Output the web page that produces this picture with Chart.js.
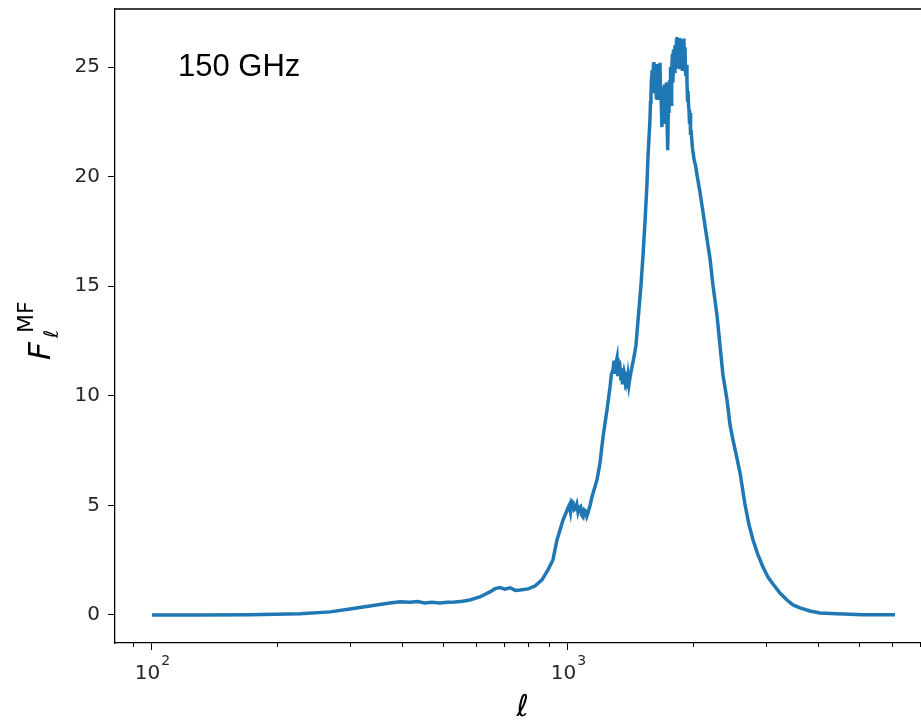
<!DOCTYPE html>
<html>
<head>
<meta charset="utf-8">
<script src="https://cdn.jsdelivr.net/npm/chart.js@4"></script>
<style>
  html, body { margin: 0; padding: 0; background: #fff; overflow: hidden; }
  #wrap { position: absolute; left: 0; top: 0; width: 940px; height: 722px; }
</style>
</head>
<body>
<div id="wrap"><canvas id="fmf"></canvas></div>
<script>
// multipole and matched-filter weight, 150 GHz channel
var ell = [
  100, 130, 172, 227, 268, 299, 334, 373, 395, 417, 435, 453, 470, 492, 512, 535, 558, 581,
  614, 649, 668, 687, 705, 726, 747, 767, 802, 833, 866, 895, 920, 941, 973,
  1000, 1007, 1014, 1021, 1028, 1035, 1042, 1050, 1057, 1064, 1072, 1079, 1087, 1094, 1102, 1110, 1117, 1130,
  1142, 1174, 1194, 1214, 1241, 1262, 1272, 1283, 1290, 1297, 1305, 1312, 1318, 1323, 1329, 1334,
  1340, 1345, 1351, 1356, 1364, 1371, 1378, 1386, 1394, 1401, 1409, 1421, 1433, 1445, 1457,
  1474, 1498, 1515, 1531, 1548, 1557,
  1574, 1579, 1583, 1588, 1592, 1596, 1600, 1605, 1609, 1614, 1618, 1622, 1627, 1631, 1636, 1640,
  1645, 1650, 1654, 1659, 1664, 1668, 1673, 1678, 1682, 1687, 1692, 1696, 1701, 1706, 1710, 1715,
  1720, 1725, 1730, 1734, 1739, 1744, 1749, 1754, 1759, 1764, 1769, 1773, 1778, 1783, 1788, 1793,
  1798, 1803, 1808, 1813, 1818, 1823, 1828, 1833, 1838, 1843, 1849, 1854, 1859, 1864, 1869, 1874,
  1879, 1884, 1890, 1895, 1900, 1905, 1911, 1916, 1921, 1927, 1932, 1938, 1943, 1949, 1954, 1960,
  1965, 1971, 1976, 1992, 2009, 2026, 2043,
  2076, 2111, 2146, 2194, 2231, 2281, 2319, 2358, 2412, 2452, 2493, 2548, 2592, 2665, 2724,
  2785, 2862, 2943, 3025, 3110, 3233, 3360, 3474, 3612, 3817, 4035, 4433, 5118, 6110
];
var fmf = [
  0, 0, 0.01, 0.05, 0.14, 0.27, 0.41, 0.55, 0.60, 0.58, 0.61, 0.55, 0.58, 0.55, 0.58, 0.59, 0.63, 0.68,
  0.82, 1.05, 1.20, 1.25, 1.18, 1.24, 1.12, 1.14, 1.19, 1.32, 1.60, 2.05, 2.51, 3.42, 4.33,
  4.88, 5.0, 4.70, 5.2, 5.15, 4.8, 4.85, 5.05, 4.70, 4.9, 4.95, 4.55, 4.47, 4.8, 4.75, 4.5, 4.65, 5.0,
  5.38, 6.16, 6.93, 8.12, 9.35, 10.40, 11.0, 11.18, 11.6, 11.0, 11.5, 11.72, 10.9, 11.1, 11.6, 11.27,
  10.7, 11.2, 10.6, 10.81, 11.1, 10.9, 10.4, 10.45, 10.9, 10.5, 10.81, 11.2, 11.54, 11.9, 12.32,
  13.46, 15.05, 16.42, 17.88, 19.62, 20.89,
  22.58, 23.4, 23.72, 24.5, 24.86, 23.9, 24.2, 25.1, 25.23, 24.0, 23.8, 24.9, 24.64, 23.6, 25.14, 24.3,
  23.5, 24.7, 24.95, 23.8, 25.2, 24.1, 23.95, 23.0, 22.26, 23.6, 24.0, 23.1, 23.27, 24.2, 22.4, 23.8,
  23.5, 24.3, 22.8, 23.9, 21.21, 23.4, 22.9, 24.4, 24.0, 25.0, 23.3, 24.7, 24.86, 25.6, 24.3, 25.8,
  25.32, 24.8, 26.00, 25.1, 25.2, 26.2, 26.37, 25.0, 25.4, 26.1, 25.87, 24.9, 26.32, 25.5, 25.6, 26.2,
  26.23, 24.9, 25.3, 26.1, 26.3, 25.0, 25.9, 24.8, 24.6, 25.1, 24.41, 23.5, 23.9, 23.3, 23.04, 22.4,
  22.9, 21.9, 22.13, 21.3, 20.8, 20.5, 20.07,
  19.30, 18.39, 17.47, 16.29, 15.05, 13.69, 12.32, 10.95, 9.81, 8.67, 7.98, 7.16, 6.48, 5.02, 4.11,
  3.42, 2.74, 2.19, 1.73, 1.41, 1.00, 0.68, 0.46, 0.32, 0.18, 0.09, 0.05, 0.01, 0.01
];

var yTicks = [0, 5, 10, 15, 20, 25];
var xMajor = [100, 1000];
var xExponents = ['2', '3'];
var xMinor = [90, 200, 300, 400, 500, 600, 700, 800, 900, 2000, 3000, 4000, 5000, 6000, 7000];
var channel = '150 GHz';

var tickFont = { family: 'DejaVu Sans', size: 20 };
var ink = '#000';
var labelInk = '#262626';

// frame extras: top spine, minor ticks, 10^n labels, axis titles and channel tag
var decorations = {
  id: 'decorations',
  afterDraw: function(chart) {
    var c = chart.ctx, a = chart.chartArea, xs = chart.scales.x;
    c.save();
    c.strokeStyle = ink;
    c.lineWidth = 1.3;
    c.beginPath();
    c.moveTo(a.left, a.top);
    c.lineTo(a.right, a.top);
    c.stroke();

    c.lineWidth = 1;
    c.beginPath();
    xMinor.forEach(function(v) {
      var px = Math.round(xs.getPixelForValue(v)) + 0.5;
      c.moveTo(px, a.bottom);
      c.lineTo(px, a.bottom + 4);
    });
    c.stroke();

    // decade labels with raised exponent
    c.fillStyle = labelInk;
    c.textBaseline = 'alphabetic';
    c.textAlign = 'left';
    xMajor.forEach(function(v, i) {
      var px = xs.getPixelForValue(v);
      c.font = '20px DejaVu Sans';
      var wBase = c.measureText('10').width;
      c.font = '14px DejaVu Sans';
      var wExp = c.measureText(xExponents[i]).width;
      var x0 = px - (wBase + wExp) / 2;
      c.font = '20px DejaVu Sans';
      c.fillText('10', x0, 679);
      c.font = '14px DejaVu Sans';
      c.fillText(xExponents[i], x0 + wBase + 1, 665);
    });

    c.fillStyle = ink;
    // x title
    c.font = 'italic 30px DejaVu Sans';
    c.textAlign = 'center';
    c.fillText('\u2113', (a.left + a.right) / 2, 716);

    // y title, rotated
    c.save();
    c.translate(50, 360);
    c.rotate(-Math.PI / 2);
    c.textAlign = 'left';
    c.font = 'italic 31px DejaVu Sans';
    c.fillText('F', 0, 0);
    c.font = 'italic 20px DejaVu Sans';
    c.fillText('\u2113', 22, 8);
    c.font = '22px DejaVu Sans';
    c.fillText('MF', 27, -17);
    c.restore();

    // channel tag
    c.font = '31px "Liberation Sans", Arial, sans-serif';
    c.textAlign = 'left';
    c.fillText(channel, 178, 76);
    c.restore();
  }
};

new Chart(document.getElementById('fmf'), {
  type: 'line',
  data: {
    datasets: [{
      data: ell.map(function(l, i) { return { x: l, y: fmf[i] }; }),
      borderColor: '#1f77b4',
      borderWidth: 3.5,
      pointRadius: 0,
      tension: 0,
      fill: false
    }]
  },
  options: {
    responsive: true,
    maintainAspectRatio: false,
    animation: false,
    layout: { padding: { left: 0, right: 10, top: 9, bottom: 0 } },
    plugins: { legend: { display: false }, tooltip: { enabled: false } },
    scales: {
      x: {
        type: 'logarithmic',
        min: 81.5,
        max: 7417,
        afterBuildTicks: function(s) {
          s.ticks = xMajor.map(function(v) { return { value: v, major: true }; });
        },
        afterFit: function(s) {
          s.height = 79;
          s.paddingLeft = 0;
          s.paddingRight = 0;
        },
        border: { display: true, color: ink, width: 1.3 },
        grid: {
          display: true,
          drawOnChartArea: false,
          drawTicks: true,
          tickLength: 7,
          tickColor: ink,
          tickWidth: 1
        },
        ticks: {
          autoSkip: false,
          maxRotation: 0,
          callback: function() { return ''; }
        }
      },
      y: {
        type: 'linear',
        min: -1.28,
        max: 27.65,
        afterBuildTicks: function(s) {
          s.ticks = yTicks.map(function(v) { return { value: v }; });
        },
        afterFit: function(s) {
          s.width = 115;
          s.paddingTop = 0;
          s.paddingBottom = 0;
        },
        border: { display: true, color: ink, width: 1.3 },
        grid: {
          display: true,
          drawOnChartArea: false,
          drawTicks: true,
          tickLength: 7,
          tickColor: ink,
          tickWidth: 1
        },
        ticks: {
          padding: 8,
          color: labelInk,
          font: tickFont
        }
      }
    }
  },
  plugins: [decorations]
});
</script>
</body>
</html>
